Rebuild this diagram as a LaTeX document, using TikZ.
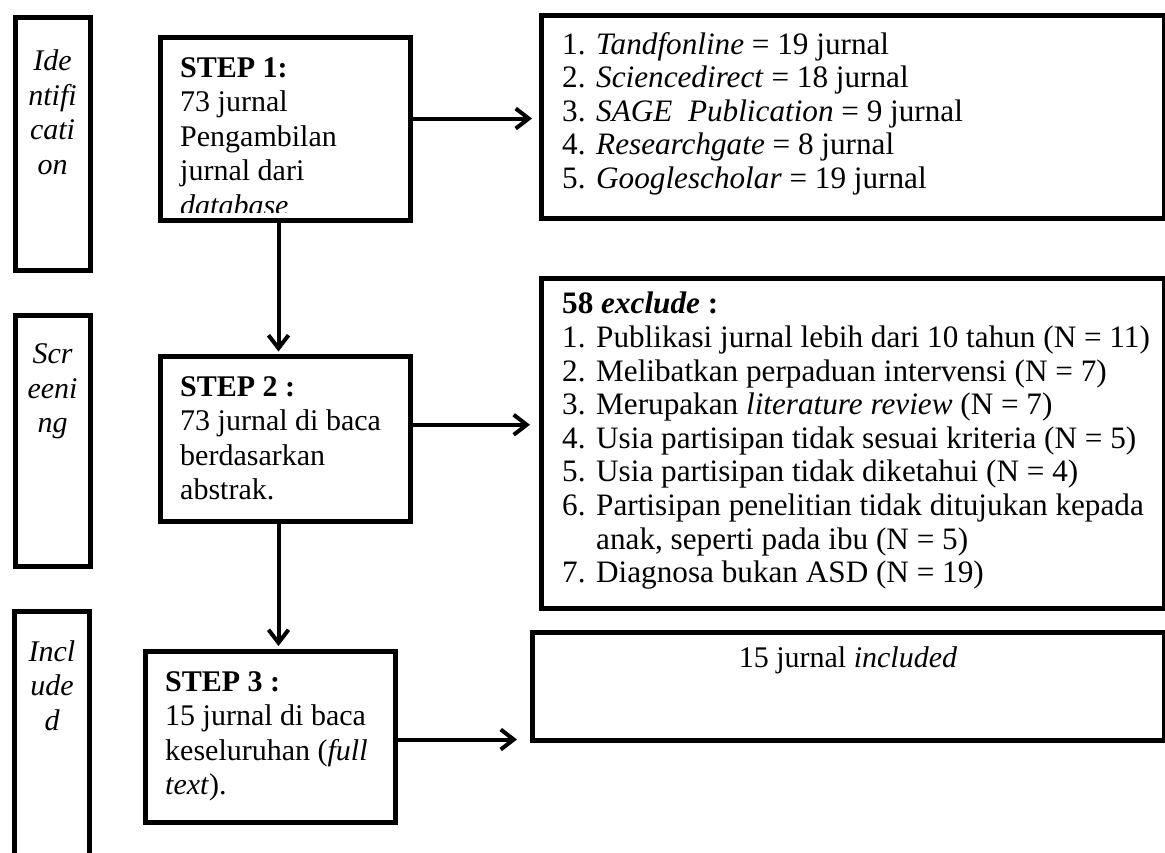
\documentclass[tikz,border=0pt]{standalone}
\usepackage{fontspec}
\setmainfont{Liberation Serif}
\usetikzlibrary{positioning,arrows.meta}
\newcommand\bigtext{\fontsize{30}{34.5}\selectfont}
\newcommand\listtext{\fontsize{31.2}{33.6}\selectfont}
\newcommand\itemno[1]{\makebox[34pt][l]{#1.}}
\tikzset{
    stagebox/.style={draw, line width=5pt, minimum width=75pt, inner sep=0pt, anchor=north west},
    stepbox/.style={draw, line width=5pt, minimum width=250pt, inner sep=0pt, anchor=north west},
    infobox/.style={draw, line width=5pt, inner sep=0pt, anchor=north west},
    boxtext/.style={inner sep=0pt, align=left, font=\bigtext},
    listbox/.style={inner sep=0pt, align=left, font=\listtext},
    stagetext/.style={inner sep=0pt, align=center, font=\bigtext\itshape},
    flow/.style={line width=4pt, -{Straight Barb[length=13pt,width=20pt]}}
}

\begin{document}
\begin{tikzpicture}[x=1pt, y=-1pt]
    \clip (0,0) rectangle (1165,852);

    % Tahap (kiri)
    \node[stagebox, minimum height=253pt] (ident) at (12.5,14.5) {};
    \node[stagetext, below=35pt of ident.north] (identtxt) {Ide\\ntifi\\cati\\on};
    \node[stagebox, minimum height=251pt] (screen) at (12.5,312.5) {};
    \node[stagetext, below=31pt of screen.north] (screentxt) {Scr\\eeni\\ng};
    \node[stagebox, minimum height=300pt] (inclu) at (12,608.5) {};
    \node[stagetext, below=31.5pt of inclu.north] (inclutxt) {Incl\\ude\\d};

    % Kotak STEP
    \node[stepbox, minimum height=183pt] (step1) at (157.5,34.5) {};
    \begin{scope}
        \clip (step1.north west) rectangle ([yshift=10pt]step1.south east);
        \node[boxtext, below right=22.5pt and 22.5pt of step1.north west] (step1txt)
            {\textbf{STEP 1:}\\73 jurnal\\Pengambilan\\jurnal dari\\\textit{database}};
    \end{scope}
    \node[stepbox, minimum height=164.5pt] (step2) at (157.5,354) {};
    \node[boxtext, below right=22pt and 22.5pt of step2.north west] (step2txt)
        {\textbf{STEP 2 :}\\73 jurnal di baca\\berdasarkan\\abstrak.};
    \node[stepbox, minimum height=171pt] (step3) at (142.5,648.5) {};
    \node[boxtext, below right=22.5pt and 22.5pt of step3.north west] (step3txt)
        {\textbf{STEP 3 :}\\15 jurnal di baca\\keseluruhan (\textit{full}\\\textit{text}).};

    % Kotak hasil (kanan)
    \node[infobox, minimum width=623pt, minimum height=203pt] (source) at (538.5,12.5) {};
    \node[listbox, below right=19.5pt and 23.5pt of source.north west] (sourcetxt)
        {\itemno{1}\textit{Tandfonline} = 19 jurnal\\
         \itemno{2}\textit{Sciencedirect} = 18 jurnal\\
         \itemno{3}\textit{SAGE\ \ Publication} = 9 jurnal\\
         \itemno{4}\textit{Researchgate} = 8 jurnal\\
         \itemno{5}\textit{Googlescholar} = 19 jurnal};
    \node[infobox, minimum width=623pt, minimum height=330pt] (exclude) at (538.5,275.5) {};
    \node[listbox, below right=16.5pt and 23.5pt of exclude.north west] (excludetxt)
        {\textbf{58 \textit{exclude} :}\\
         \itemno{1}Publikasi jurnal lebih dari 10 tahun (N = 11)\\
         \itemno{2}Melibatkan perpaduan intervensi (N = 7)\\
         \itemno{3}Merupakan \textit{literature review} (N = 7)\\
         \itemno{4}Usia partisipan tidak sesuai kriteria (N = 5)\\
         \itemno{5}Usia partisipan tidak diketahui (N = 4)\\
         \itemno{6}Partisipan penelitian tidak ditujukan kepada\\
         \hspace*{34pt}anak, seperti pada ibu (N = 5)\\
         \itemno{7}Diagnosa bukan ASD (N = 19)};
    \node[infobox, minimum width=632pt, minimum height=108pt] (result) at (529.5,629.5) {};
    \node[boxtext, below=17pt of result.north] (resulttxt) {15 jurnal \textit{included}};

    % Panah
    \draw[flow, shorten >=6.5pt] ([yshift=10pt]step1.east) -- ([yshift=10pt]step1.east -| source.west);
    \draw[flow, shorten >=8.5pt] ([yshift=14pt]step2.east) -- ([yshift=14pt]step2.east -| exclude.west);
    \draw[flow, shorten >=12.5pt] ([yshift=-3pt]step3.east) -- ([yshift=-3pt]step3.east -| result.west);
    \draw[flow, shorten >=2.5pt] ([xshift=-6.5pt]step1.south) -- ([xshift=-6.5pt]step1.south |- step2.north);
    \draw[flow, shorten >=2.5pt] ([xshift=8.5pt]step3.north |- step2.south) -- ([xshift=8.5pt]step3.north);
\end{tikzpicture}
\end{document}
